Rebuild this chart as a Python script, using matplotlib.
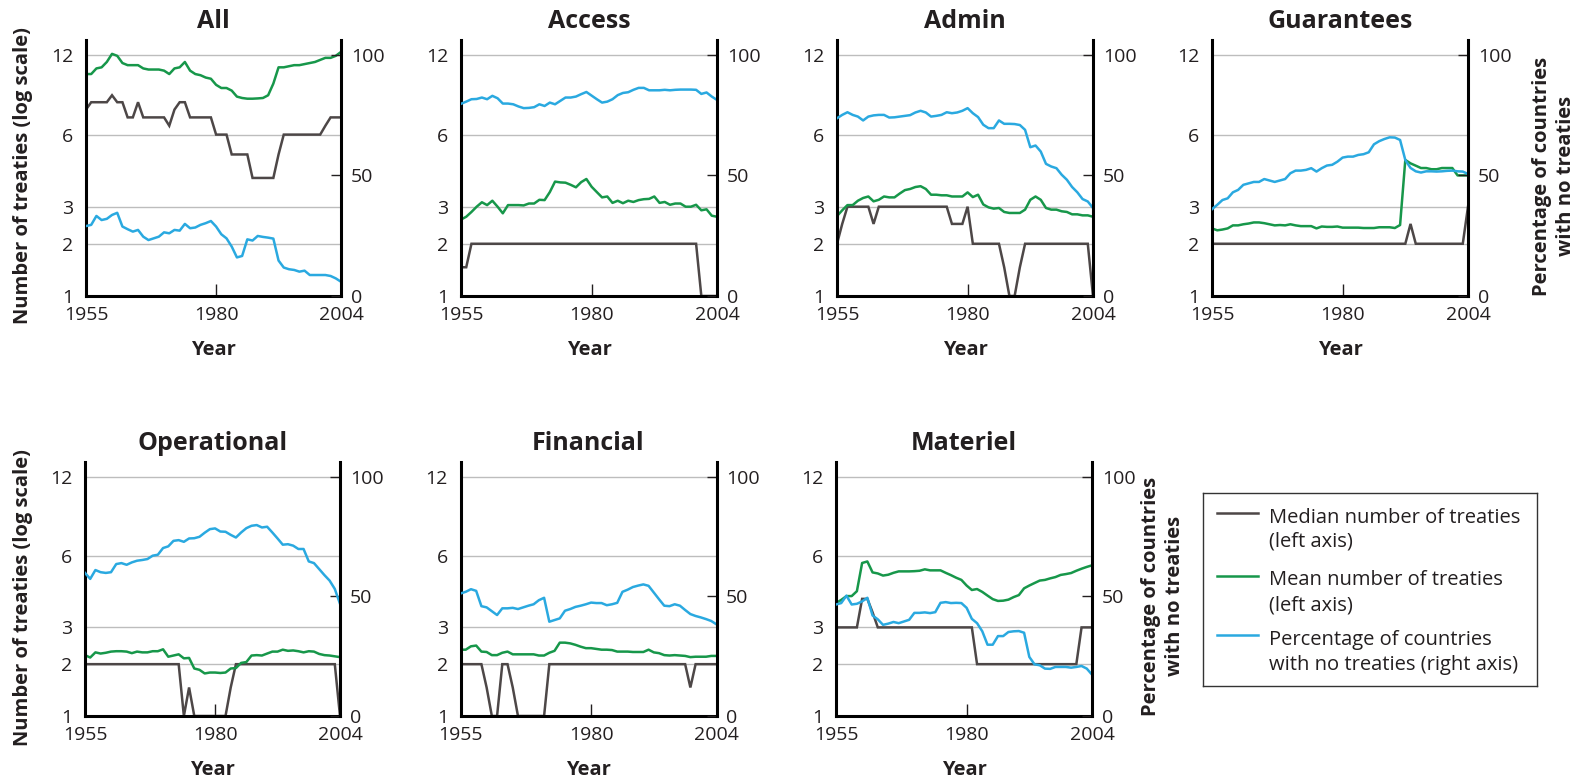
import numpy as np
import matplotlib
matplotlib.use('Agg')
import matplotlib.pyplot as plt
from matplotlib.ticker import NullLocator

plt.rcParams['font.family'] = ['Open Sans', 'DejaVu Sans']

# ---------------- data ----------------
years = list(range(1955, 2005))
panel_titles = ['All', 'Access', 'Admin', 'Guarantees', 'Operational', 'Financial', 'Materiel']
left_ticks = [1, 2, 3, 6, 12]
right_ticks = [0, 50, 100]
x_ticks = [1955, 1980, 2004]
series_labels = [['Median number of treaties', '(left axis)'],
                 ['Mean number of treaties', '(left axis)'],
                 ['Percentage of countries', 'with no treaties (right axis)']]
left_label = 'Number of treaties (log scale)'
right_label = 'Percentage of countries\nwith no treaties'
x_label = 'Year'

all_median = [7.5, 8, 8, 8, 8, 8.5, 8, 8, 7, 7, 8, 7, 7, 7, 7, 7, 6.5, 7.5, 8, 8,
              7, 7, 7, 7, 7, 6, 6, 6, 5, 5, 5, 5, 4, 4, 4, 4, 4, 5, 6, 6,
              6, 6, 6, 6, 6, 6, 6.5, 7, 7, 7]
all_mean = [10.2, 10.2, 10.7, 10.8, 11.3, 12.1, 11.9, 11.2, 11.0, 11.0, 11.0, 10.7, 10.6, 10.6, 10.6, 10.5, 10.2, 10.7, 10.8, 11.3,
            10.5, 10.2, 10.1, 9.9, 9.8, 9.3, 9.05, 9.05, 8.85, 8.4, 8.3, 8.25, 8.25, 8.27, 8.3, 8.5, 9.4, 10.8, 10.8, 10.9,
            11.0, 11.0, 11.1, 11.2, 11.3, 11.5, 11.7, 11.7, 11.9, 12.3]
all_pct = [29.0, 29.5, 33.2, 31.5, 32.0, 33.6, 34.5, 28.8, 27.7, 26.7, 27.4, 24.6, 23.2, 23.9, 24.6, 26.4, 26.0, 27.4, 27.1, 29.9,
           28.1, 28.4, 29.5, 30.2, 31.1, 28.8, 25.6, 23.9, 20.5, 16.0, 16.6, 23.5, 23.0, 24.9, 24.5, 24.2, 23.8, 14.7, 11.8, 11.1,
           10.8, 10.1, 10.5, 8.7, 8.7, 8.7, 8.7, 8.3, 7.3, 5.9]

access_median = [1.5, 1.5] + [2] * 44 + [1] * 4
access_mean = [2.62, 2.70, 2.84, 3.0, 3.14, 3.05, 3.19, 3.0, 2.8, 3.05, 3.05, 3.05, 3.04, 3.1, 3.1, 3.22, 3.21, 3.48, 3.86, 3.83,
               3.82, 3.74, 3.65, 3.84, 3.96, 3.67, 3.48, 3.30, 3.33, 3.12, 3.19, 3.11, 3.19, 3.15, 3.21, 3.24, 3.25, 3.33, 3.12, 3.15,
               3.06, 3.1, 3.1, 3.0, 3.0, 3.06, 2.89, 2.92, 2.73, 2.70]
access_pct = [79.7, 80.6, 81.6, 81.7, 82.3, 81.6, 83.0, 82.0, 79.8, 79.8, 79.5, 78.6, 77.9, 78.0, 78.3, 79.5, 78.8, 80.2, 79.5, 80.9,
              82.3, 82.3, 82.7, 83.7, 84.6, 83.1, 81.6, 80.2, 80.6, 81.6, 83.3, 84.2, 84.5, 85.5, 86.3, 86.3, 85.3, 85.3, 85.3, 85.5,
              85.3, 85.5, 85.6, 85.6, 85.6, 85.5, 83.8, 84.4, 82.7, 81.3]

admin_median = [2, 2.5] + [3] * 5 + [2.5] + [3] * 14 + [2.5] * 3 + [3] + [2] * 6 + [1.5, 1, 1, 1.5] + [2] * 13 + [1]
admin_mean = [2.72, 2.89, 3.05, 3.05, 3.19, 3.28, 3.33, 3.17, 3.22, 3.33, 3.30, 3.30, 3.43, 3.55, 3.59, 3.66, 3.69, 3.59, 3.39, 3.39,
              3.37, 3.37, 3.33, 3.33, 3.33, 3.47, 3.31, 3.39, 3.07, 2.98, 2.94, 2.96, 2.84, 2.81, 2.81, 2.81, 2.91, 3.22, 3.33, 3.22,
              2.96, 2.91, 2.91, 2.86, 2.84, 2.77, 2.77, 2.74, 2.74, 2.70]
admin_pct = [73.7, 75.1, 76.2, 75.1, 74.4, 72.8, 74.4, 74.9, 75.1, 75.1, 74.0, 74.1, 74.4, 74.7, 75.0, 76.1, 76.8, 76.1, 74.4, 74.7,
             75.1, 76.2, 75.8, 76.1, 76.8, 77.9, 75.8, 74.2, 71.0, 69.6, 69.6, 72.8, 71.4, 71.4, 71.3, 70.9, 68.9, 61.7, 62.4, 59.9,
             54.8, 53.7, 53.0, 50.3, 48.2, 45.2, 43.0, 40.2, 39.2, 36.5]

guar_median = [2] * 38 + [2.5] + [2] * 10 + [3]
guar_mean = [2.38, 2.33, 2.35, 2.38, 2.46, 2.46, 2.49, 2.51, 2.54, 2.54, 2.52, 2.49, 2.46, 2.47, 2.46, 2.49, 2.46, 2.44, 2.44, 2.44,
             2.38, 2.43, 2.42, 2.42, 2.43, 2.40, 2.40, 2.40, 2.40, 2.39, 2.39, 2.39, 2.41, 2.41, 2.41, 2.39, 2.47, 4.75, 4.6, 4.5,
             4.4, 4.4, 4.35, 4.35, 4.4, 4.4, 4.4, 4.1, 4.1, 4.1]
guar_pct = [36.0, 37.8, 39.8, 40.5, 43.0, 44.0, 46.1, 46.7, 47.3, 47.3, 48.5, 47.9, 47.3, 47.9, 48.5, 50.9, 52.0, 52.0, 52.3, 53.0,
            51.6, 53.0, 54.1, 54.4, 55.7, 57.4, 57.8, 57.8, 58.5, 58.8, 59.6, 62.9, 64.2, 65.1, 65.8, 65.7, 64.7, 56.4, 53.1, 51.7,
            51.2, 51.7, 51.7, 51.6, 51.7, 51.9, 52.0, 51.7, 51.6, 50.6]

oper_median = [2] * 19 + [1, 1.5] + [1] * 7 + [1.5] + [2] * 20 + [1]
oper_mean = [2.22, 2.16, 2.29, 2.26, 2.28, 2.31, 2.32, 2.32, 2.31, 2.27, 2.31, 2.29, 2.29, 2.32, 2.32, 2.37, 2.18, 2.21, 2.24, 2.14,
             2.15, 1.90, 1.87, 1.79, 1.81, 1.81, 1.80, 1.81, 1.90, 1.91, 2.03, 2.05, 2.21, 2.22, 2.21, 2.26, 2.31, 2.31, 2.36, 2.33,
             2.34, 2.32, 2.29, 2.32, 2.31, 2.25, 2.22, 2.21, 2.19, 2.17]
oper_pct = [59.8, 57.3, 61.0, 60.1, 59.8, 60.1, 63.5, 63.9, 63.2, 64.2, 64.9, 65.2, 65.6, 67.0, 67.4, 70.2, 70.9, 73.2, 73.5, 72.8,
            74.2, 74.3, 74.9, 76.6, 78.1, 78.4, 77.1, 77.0, 75.7, 74.6, 76.7, 78.5, 79.5, 79.8, 78.8, 79.1, 76.7, 74.2, 71.6, 71.8,
            71.2, 69.8, 69.8, 64.6, 63.9, 61.4, 58.9, 56.6, 53.1, 46.9]

fin_median = [2] * 5 + [1.5] + [1] * 2 + [2] * 2 + [1.5] + [1] * 6 + [2] * 27 + [1.5] + [2] * 5
fin_mean = [2.36, 2.36, 2.45, 2.47, 2.31, 2.30, 2.22, 2.22, 2.28, 2.31, 2.24, 2.24, 2.24, 2.24, 2.24, 2.21, 2.21, 2.28, 2.33, 2.55,
            2.55, 2.53, 2.49, 2.44, 2.40, 2.40, 2.38, 2.36, 2.36, 2.35, 2.31, 2.31, 2.31, 2.30, 2.30, 2.30, 2.36, 2.29, 2.27, 2.22,
            2.21, 2.22, 2.21, 2.20, 2.17, 2.18, 2.18, 2.18, 2.20, 2.20]
fin_pct = [51.2, 51.9, 53.0, 52.3, 45.9, 45.4, 43.8, 42.2, 45.0, 45.0, 45.2, 44.7, 45.4, 46.1, 46.7, 48.4, 49.4, 39.4, 40.1, 40.8,
           44.0, 44.7, 45.6, 46.1, 46.7, 47.4, 47.2, 47.2, 46.3, 46.7, 47.3, 51.9, 52.8, 53.9, 54.5, 55.0, 54.4, 51.6, 48.8, 46.1,
           45.9, 46.7, 46.1, 44.3, 42.6, 41.8, 41.2, 40.5, 39.7, 38.3]

mat_median = [3] * 5 + [4, 4, 3.5] + [3] * 19 + [2] * 20 + [3] * 3
mat_mean = [3.84, 3.96, 4.11, 4.11, 4.31, 5.62, 5.70, 5.15, 5.10, 5.0, 5.04, 5.13, 5.2, 5.2, 5.2, 5.21, 5.23, 5.3, 5.25, 5.25,
            5.25, 5.13, 5.02, 4.9, 4.8, 4.55, 4.36, 4.4, 4.28, 4.13, 3.99, 3.92, 3.93, 3.97, 4.07, 4.15, 4.43, 4.55, 4.66, 4.77,
            4.8, 4.87, 4.93, 5.03, 5.07, 5.12, 5.23, 5.33, 5.42, 5.5]
mat_pct = [46.6, 47.2, 50.3, 46.6, 46.9, 47.9, 49.4, 42.0, 40.4, 38.1, 38.6, 39.3, 38.8, 39.5, 40.2, 43.1, 43.1, 43.3, 43.0, 43.4,
           47.3, 47.6, 47.2, 47.3, 47.2, 45.2, 40.6, 38.8, 35.4, 29.8, 29.8, 33.4, 33.4, 35.1, 35.4, 35.5, 34.8, 24.7, 21.6, 21.2,
           19.8, 19.7, 20.5, 20.5, 20.5, 20.2, 20.5, 20.9, 19.8, 17.3]

panel_data = {
    'All': (all_median, all_mean, all_pct),
    'Access': (access_median, access_mean, access_pct),
    'Admin': (admin_median, admin_mean, admin_pct),
    'Guarantees': (guar_median, guar_mean, guar_pct),
    'Operational': (oper_median, oper_mean, oper_pct),
    'Financial': (fin_median, fin_mean, fin_pct),
    'Materiel': (mat_median, mat_mean, mat_pct),
}

# ---------------- style ----------------
c_median = '#4d4747'
c_mean = '#17974a'
c_pct = '#2aa9e0'
colors = [c_median, c_mean, c_pct]
W, H = 1582, 783
fig = plt.figure(figsize=(W / 100, H / 100), dpi=100)

def rect(left, top, w, h):
    return [left / W, 1 - (top + h) / H, w / W, h / H]

# pixel layout (left, top, width, height)
layout = [(86, 40, 255, 256), (461, 40, 256, 256), (837, 40, 256, 256), (1212, 40, 256, 256),
          (85, 462, 255, 254), (460.5, 462, 256, 254), (836, 462, 256, 254)]

fwd = lambda v: np.log1p(np.clip(v, -0.999, None))
inv = lambda v: np.expm1(v)
frac12 = 0.942
top_left = float(np.expm1(np.log(2) + (np.log(13) - np.log(2)) / frac12))
top_right = 100 / frac12

spine_lw = 2.2
line_lw = 1.8

for title, (l, t, w, h) in zip(panel_titles, layout):
    med, mean, pct = panel_data[title]
    ax = fig.add_axes(rect(l, t, w, h))
    ax.set_yscale('function', functions=(fwd, inv))
    ax.plot(years, med, color=c_median, lw=line_lw, solid_joinstyle='miter')
    ax.plot(years, mean, color=c_mean, lw=line_lw)
    ax.set_xlim(1955, 2004)
    ax.set_ylim(1, top_left)
    ax.set_yticks(left_ticks)
    ax.set_yticklabels([str(v) for v in left_ticks])
    ax.yaxis.set_minor_locator(NullLocator())
    ax.set_xticks(x_ticks)
    ax.set_xticklabels([str(v) for v in x_ticks])
    ax.grid(axis='y', color='#bdbdbd', linewidth=1.0)
    ax.set_axisbelow(True)
    ax.tick_params(axis='y', length=0, pad=9, labelsize=14, colors='#231f20')
    ax.tick_params(axis='x', direction='in', length=8.5, width=1.0, pad=7, labelsize=14, colors='#231f20')
    for s in ['top', 'right']:
        ax.spines[s].set_visible(False)
    for s in ['left', 'bottom']:
        ax.spines[s].set_linewidth(spine_lw)
        ax.spines[s].set_color('black')
        ax.spines[s].set_capstyle('projecting')

    ax2 = ax.twinx()
    ax2.plot(years, pct, color=c_pct, lw=line_lw)
    ax2.set_ylim(0, top_right)
    ax2.set_yticks(right_ticks)
    ax2.set_yticklabels([str(v) for v in right_ticks])
    ax2.tick_params(axis='y', direction='in', length=7, width=1.0, pad=7, labelsize=14, colors='#231f20')
    for s in ['top', 'left', 'bottom']:
        ax2.spines[s].set_visible(False)
    ax2.spines['right'].set_linewidth(spine_lw)
    ax2.spines['right'].set_capstyle('projecting')

    ax.text(0.5, 1 + 12 / h, title, transform=ax.transAxes, ha='center', va='baseline',
            fontsize=18, fontweight='bold', color='#231f20')
    ax.text(0.5, -59 / h, x_label, transform=ax.transAxes, ha='center', va='baseline',
            fontsize=14.5, fontweight='bold', color='#231f20')

# axis titles
for yc in (176, 598):
    fig.text(23 / W, 1 - yc / H, left_label, rotation=90, ha='center', va='center',
             fontsize=14.5, fontweight='bold', color='#231f20')
for xc, yc in ((1554, 176), (1163, 596)):
    fig.text(xc / W, 1 - yc / H, right_label, rotation=90, ha='center', va='center',
             multialignment='center', linespacing=1.25,
             fontsize=14.5, fontweight='bold', color='#231f20')

# legend box
lx, ly, lw_, lh = 1203, 493, 334, 193
lax = fig.add_axes(rect(lx, ly, lw_, lh))
lax.set_xlim(0, lw_)
lax.set_ylim(lh, 0)
lax.set_xticks([])
lax.set_yticks([])
for s in lax.spines.values():
    s.set_linewidth(1.0)
    s.set_color('#333333')
handle_y = [20, 83, 142]
text_base = [(30, 54), (92, 117), (152, 177)]
for hy, (b1, b2), lab, col in zip(handle_y, text_base, series_labels, colors):
    lax.plot([14, 55], [hy, hy], color=col, lw=line_lw)
    lax.text(66, b1, lab[0], ha='left', va='baseline', fontsize=14.5, color='#231f20')
    lax.text(66, b2, lab[1], ha='left', va='baseline', fontsize=14.5, color='#231f20')

fig.savefig('out.png', dpi=100)
